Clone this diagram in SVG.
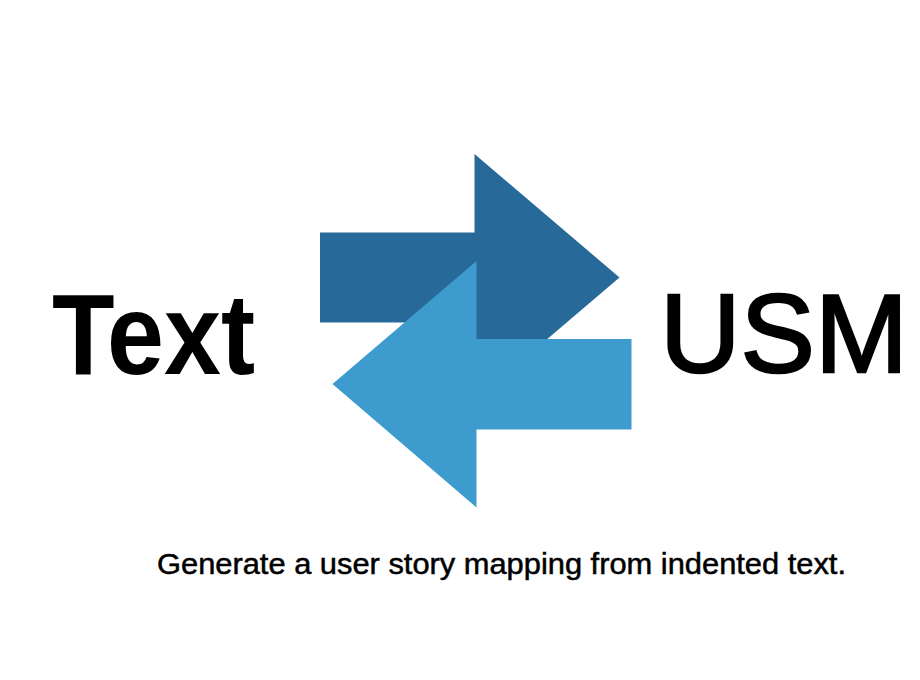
<svg xmlns="http://www.w3.org/2000/svg" width="920" height="680" viewBox="0 0 920 680">
<style>
.lbl{font-family:"Liberation Sans",Arial,sans-serif;fill:#000;stroke:#000}
.dark{fill:#276a99}
.light{fill:#3e9bce}
</style>
<rect width="920" height="680" fill="#fff"/>
<g id="connectors">
<polygon class="dark" points="320,232.5 474.5,232.5 474.5,154 619.5,277.5 474.5,401 474.5,322.5 320,322.5"/>
<polygon class="light" points="631.5,339 476.5,339 476.5,261 332.5,384 476.5,507.5 476.5,429.5 631.5,429.5"/>
</g>
<g id="node-text">
<text class="lbl" x="52" y="373.5" font-size="115" font-weight="bold" stroke-width="0" textLength="203" lengthAdjust="spacingAndGlyphs">Text</text>
</g>
<g id="node-usm">
<text class="lbl" x="660" y="372" font-size="112" stroke-width="2.4" textLength="248" lengthAdjust="spacingAndGlyphs">USM</text>
</g>
<g id="caption">
<text class="lbl" x="157" y="573.5" font-size="29" stroke-width="0.5" textLength="689" lengthAdjust="spacingAndGlyphs">Generate a user story mapping from indented text.</text>
</g>
</svg>
